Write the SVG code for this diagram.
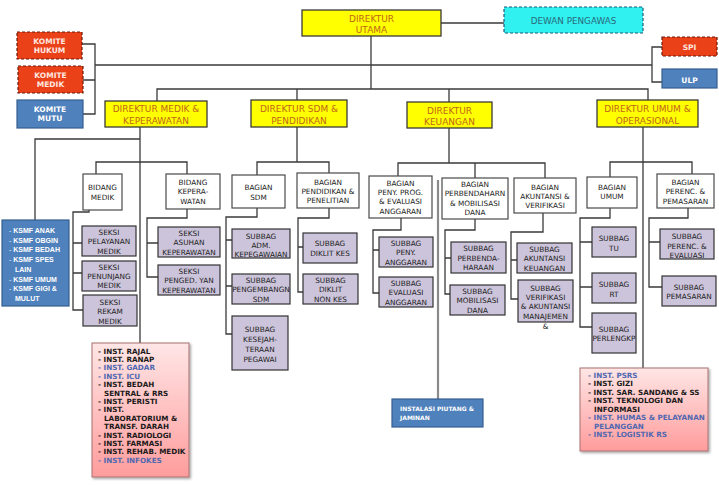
<svg xmlns="http://www.w3.org/2000/svg" width="719" height="485" viewBox="0 0 719 485">
<defs>
<linearGradient id="pink" x1="0" y1="0" x2="0" y2="1">
<stop offset="0" stop-color="#ffe6e6"/>
<stop offset="1" stop-color="#ff9c9c"/>
</linearGradient>
<filter id="sh" x="-10%" y="-10%" width="130%" height="130%">
<feDropShadow dx="1.5" dy="1.5" stdDeviation="1" flood-color="#000" flood-opacity="0.35"/>
</filter>
</defs>
<style>
.dir rect{fill:#ffff00;stroke:#3a3a3a;stroke-width:1.3}
.dir text{font-family:"DejaVu Sans",sans-serif;font-size:9px;fill:#c0661a;text-anchor:middle}
.red rect{fill:#ea4118;stroke:#6a1a0a;stroke-width:1.2;stroke-dasharray:3 2}
.blue rect{fill:#4f81bd;stroke:#35608f;stroke-width:1.2}
.lbl text{font-family:"DejaVu Sans",sans-serif;font-weight:bold;font-size:7.5px;fill:#ffe8e0;text-anchor:middle}
.wb rect{fill:#ffffff;stroke:#4a4a4a;stroke-width:1.2}
.lv rect{fill:#ccc4da;stroke:#333;stroke-width:1.2}
.bx text{font-family:"DejaVu Sans",sans-serif;font-size:7.3px;fill:#222;text-anchor:middle}
.inst rect{fill:url(#pink);stroke:#a87070;stroke-width:1}
.inst text{font-family:"DejaVu Sans",sans-serif;font-weight:bold;font-size:7.2px;fill:#1a1a1a}
.inst .b{fill:#5068b0}
.ks text{font-family:"Liberation Sans",sans-serif;font-weight:bold;font-size:7px;fill:#fff}
.ks .d{fill:#b8cde8}
#connectors path{fill:none;stroke:#3a3a3a;stroke-width:1.3}
#connectors path.g{stroke:#8a8a8a;stroke-width:2.2}
</style>

<g id="connectors">
<path d="M441,23 H504"/>
<path d="M371,36 V89"/>
<path d="M95,65 H652"/>
<path d="M82,44 H95 V114 H83 M83,80 H95"/>
<path d="M662,47 H652 V82 H662"/>
<path d="M157,101 V89 H648 V100 M297,89 V100 M449,89 V102"/>
<path d="M140,127 V343"/>
<path d="M140,139 H35 V220"/>
<path d="M96,174 V162 H187 V174"/>
<path d="M89,210 V212 H73 V310 H83 M73,243 H82 M73,273 H82"/>
<path d="M187,209 V218 H147 V277 H158 M147,243 H158"/>
<path d="M297,127 V162 M257,175 V162 H329 V173"/>
<path d="M257,208 V217 H226 V334 H232 M226,240 H232 M226,286 H232"/>
<path d="M329,208 V218 H298 V292 H303 M298,247 H303"/>
<path d="M449,128 V163 M398,176 V163 H545 V178 M475,163 V178"/>
<path d="M401,218 V230 H373 V293 H379 M373,250 H379"/>
<path class="g" d="M438,180 V399"/>
<path d="M475,219 V230 H445 V294 H450 M445,258 H451"/>
<path d="M543,213 V232 H511 V299 H518 M511,260 H517"/>
<path d="M643,127 V368"/>
<path d="M610,177 V162 H692 V174"/>
<path d="M610,208 V218 H580 V327 H592 M580,242 H592 M580,287 H592"/>
<path d="M688,208 V218 H649 V287 H662 M649,242 H660"/>
</g>

<g id="direktur-utama" class="dir"><rect x="302" y="10" width="139" height="26"/><text x="371.5" y="21.5">DIREKTUR</text><text x="371.5" y="33">UTAMA</text></g>
<g id="dewan-pengawas"><rect x="504" y="7" width="139" height="26" fill="#30f0f0" stroke="#1f5a78" stroke-width="1.2" stroke-dasharray="3 2"/><text x="573.5" y="23.5" font-family="DejaVu Sans, sans-serif" font-size="8.8" fill="#2a6a7a" text-anchor="middle">DEWAN PENGAWAS</text></g>

<g id="komite-hukum" class="red lbl"><rect x="17" y="32" width="65" height="27"/><text x="49.5" y="44">KOMITE</text><text x="49.5" y="53">HUKUM</text></g>
<g id="komite-medik" class="red lbl"><rect x="18" y="66" width="65" height="27"/><text x="50.5" y="78">KOMITE</text><text x="50.5" y="87">MEDIK</text></g>
<g id="komite-mutu" class="blue lbl"><rect x="17" y="100" width="66" height="28"/><text x="50" y="112" style="fill:#fff">KOMITE</text><text x="50" y="121" style="fill:#fff">MUTU</text></g>
<g id="spi" class="red lbl"><rect x="662" y="37" width="55" height="19"/><text x="689.5" y="50">SPI</text></g>
<g id="ulp" class="blue lbl"><rect x="662" y="69" width="55" height="19"/><text x="689.5" y="82.5" style="fill:#fff">ULP</text></g>

<g id="dir-medik" class="dir"><rect x="105" y="101" width="102" height="26"/><text x="156" y="112">DIREKTUR MEDIK &amp;</text><text x="156" y="124">KEPERAWATAN</text></g>
<g id="dir-sdm" class="dir"><rect x="251" y="100" width="96" height="27"/><text x="299" y="111.5">DIREKTUR SDM &amp;</text><text x="299" y="123.5">PENDIDIKAN</text></g>
<g id="dir-keuangan" class="dir"><rect x="407" y="102" width="85" height="26"/><text x="449.5" y="113.5">DIREKTUR</text><text x="449.5" y="125">KEUANGAN</text></g>
<g id="dir-umum" class="dir"><rect x="597" y="100" width="101" height="27"/><text x="647.5" y="111.5">DIREKTUR UMUM &amp;</text><text x="647.5" y="123.5">OPERASIONAL</text></g>

<g id="ksmf" class="blue ks"><rect x="2" y="220" width="67" height="86"/>
<text x="9" y="233.3"><tspan class="d">- </tspan>KSMF ANAK</text>
<text x="9" y="242.6"><tspan class="d">- </tspan>KSMF OBGIN</text>
<text x="9" y="252"><tspan class="d">- </tspan>KSMF BEDAH</text>
<text x="9" y="261.6"><tspan class="d">- </tspan>KSMF SPES</text>
<text x="15" y="271.6">LAIN</text>
<text x="9" y="281.6"><tspan class="d">- </tspan>KSMF UMUM</text>
<text x="9" y="291.3"><tspan class="d">- </tspan>KSMF GIGI &amp;</text>
<text x="15" y="301">MULUT</text>
</g>

<g id="bidang-medik" class="wb bx"><rect x="83" y="174" width="39" height="36"/><text x="102.5" y="189.5">BIDANG</text><text x="102.5" y="199.5">MEDIK</text></g>
<g id="bidang-keperawatan" class="wb bx"><rect x="166" y="174" width="54" height="35"/><text x="193" y="184.5">BIDANG</text><text x="193" y="194">KEPERA-</text><text x="193" y="203.5">WATAN</text></g>
<g id="seksi-pelayanan" class="lv bx"><rect x="82" y="226" width="54" height="30"/><text x="109" y="234.5">SEKSI</text><text x="109" y="243.5">PELAYANAN</text><text x="109" y="253.5">MEDIK</text></g>
<g id="seksi-penunjang" class="lv bx"><rect x="82" y="261" width="54" height="30"/><text x="109" y="269.5">SEKSI</text><text x="109" y="278.5">PENUNJANG</text><text x="109" y="287.5">MEDIK</text></g>
<g id="seksi-rekam" class="lv bx"><rect x="83" y="295" width="54" height="31"/><text x="110" y="304.5">SEKSI</text><text x="110" y="313.5">REKAM</text><text x="110" y="323.5">MEDIK</text></g>
<g id="seksi-asuhan" class="lv bx"><rect x="158" y="227" width="62" height="30"/><text x="189" y="235.5">SEKSI</text><text x="189" y="244.5">ASUHAN</text><text x="189" y="254.5">KEPERAWATAN</text></g>
<g id="seksi-penged" class="lv bx"><rect x="158" y="265" width="62" height="30"/><text x="189" y="273.5">SEKSI</text><text x="189" y="282.5">PENGED. YAN</text><text x="189" y="292.5">KEPERAWATAN</text></g>

<g id="inst-medik" class="inst"><rect x="92" y="343" width="97" height="134" filter="url(#sh)"/>
<text x="98" y="353.6">- INST. RAJAL</text>
<text x="98" y="362">- INST. RANAP</text>
<text x="98" y="370.4" class="b">- INST. GADAR</text>
<text x="98" y="378.8" class="b">- INST. ICU</text>
<text x="98" y="387.2">- INST. BEDAH</text>
<text x="104" y="395.6">SENTRAL &amp; RRS</text>
<text x="98" y="404">- INST. PERISTI</text>
<text x="98" y="412.4">- INST.</text>
<text x="104" y="420.8">LABORATORIUM &amp;</text>
<text x="104" y="429.2">TRANSF. DARAH</text>
<text x="98" y="437.6">- INST. RADIOLOGI</text>
<text x="98" y="446">- INST. FARMASI</text>
<text x="98" y="454.4">- INST. REHAB. MEDIK</text>
<text x="98" y="462.8" class="b">- INST. INFOKES</text>
</g>

<g id="bagian-sdm" class="wb bx"><rect x="232" y="175" width="53" height="33"/><text x="258.5" y="189.5">BAGIAN</text><text x="258.5" y="199.5">SDM</text></g>
<g id="bagian-pendidikan" class="wb bx"><rect x="297" y="173" width="62" height="35"/><text x="328" y="184.5">BAGIAN</text><text x="328" y="193.5">PENDIDIKAN &amp;</text><text x="328" y="202.5">PENELITIAN</text></g>
<g id="subbag-adm" class="lv bx"><rect x="232" y="229" width="58" height="29"/><text x="261" y="238.5">SUBBAG</text><text x="261" y="247.5">ADM.</text><text x="261" y="256.5">KEPEGAWAIAN</text></g>
<g id="subbag-pengembangn" class="lv bx"><rect x="232" y="274" width="58" height="30"/><text x="261" y="282.5">SUBBAG</text><text x="261" y="291.5">PENGEMBANGN</text><text x="261" y="301.5">SDM</text></g>
<g id="subbag-kesejahteraan" class="lv bx"><rect x="232" y="316" width="56" height="54"/><text x="260" y="331.5">SUBBAG</text><text x="260" y="341.5">KESEJAH-</text><text x="260" y="351.5">TERAAN</text><text x="260" y="361.5">PEGAWAI</text></g>
<g id="subbag-diklit-kes" class="lv bx"><rect x="303" y="233" width="54" height="30"/><text x="330" y="245.5">SUBBAG</text><text x="330" y="255.5">DIKLIT KES</text></g>
<g id="subbag-diklit-nonkes" class="lv bx"><rect x="303" y="274" width="55" height="30"/><text x="330.5" y="282.5">SUBBAG</text><text x="330.5" y="291.5">DIKLIT</text><text x="330.5" y="301.5">NON KES</text></g>

<g id="bagian-peny" class="wb bx"><rect x="369" y="176" width="63" height="42"/><text x="400.5" y="185.5">BAGIAN</text><text x="400.5" y="194.5">PENY. PROG.</text><text x="400.5" y="203.5">&amp; EVALUASI</text><text x="400.5" y="213.5">ANGGARAN</text></g>
<g id="bagian-perbendaharn" class="wb bx"><rect x="442" y="178" width="66" height="41"/><text x="475" y="186.5">BAGIAN</text><text x="475" y="196">PERBENDAHARN</text><text x="475" y="205.5">&amp; MOBILISASI</text><text x="475" y="215">DANA</text></g>
<g id="bagian-akuntansi" class="wb bx"><rect x="514" y="178" width="62" height="35"/><text x="545" y="189.5">BAGIAN</text><text x="545" y="198.5">AKUNTANSI &amp;</text><text x="545" y="208">VERIFIKASI</text></g>
<g id="subbag-peny" class="lv bx"><rect x="379" y="237" width="54" height="30"/><text x="406" y="245.5">SUBBAG</text><text x="406" y="255">PENY.</text><text x="406" y="264.5">ANGGARAN</text></g>
<g id="subbag-evaluasi" class="lv bx"><rect x="379" y="277" width="54" height="30"/><text x="406" y="285.5">SUBBAG</text><text x="406" y="295">EVALUASI</text><text x="406" y="304.5">ANGGARAN</text></g>
<g id="subbag-perbendaharaan" class="lv bx"><rect x="451" y="242" width="55" height="31"/><text x="478.5" y="250.5">SUBBAG</text><text x="478.5" y="260.5">PERBENDA-</text><text x="478.5" y="270">HARAAN</text></g>
<g id="subbag-mobilisasi" class="lv bx"><rect x="450" y="285" width="55" height="30"/><text x="477.5" y="293.5">SUBBAG</text><text x="477.5" y="302.5">MOBILISASI</text><text x="477.5" y="312.5">DANA</text></g>
<g id="subbag-akuntansi" class="lv bx"><rect x="517" y="243" width="55" height="30"/><text x="544.5" y="251.5">SUBBAG</text><text x="544.5" y="261">AKUNTANSI</text><text x="544.5" y="270.5">KEUANGAN</text></g>
<g id="subbag-verifikasi" class="lv bx"><rect x="518" y="280" width="55" height="42"/><text x="545.5" y="290.5">SUBBAG</text><text x="545.5" y="299.5">VERIFIKASI</text><text x="545.5" y="308.5">&amp; AKUNTANSI</text><text x="545.5" y="318.5">MANAJEMEN</text><text x="545.5" y="328.5">&amp;</text></g>
<g id="instalasi-piutang" class="blue"><rect x="392" y="399" width="91" height="28"/><text x="400" y="411" font-family="DejaVu Sans, sans-serif" font-weight="bold" font-size="6" fill="#fff">INSTALASI PIUTANG &amp;</text><text x="400" y="420" font-family="DejaVu Sans, sans-serif" font-weight="bold" font-size="6" fill="#fff">JAMINAN</text></g>

<g id="bagian-umum" class="wb bx"><rect x="587" y="177" width="50" height="31"/><text x="612" y="189.5">BAGIAN</text><text x="612" y="199">UMUM</text></g>
<g id="bagian-perenc" class="wb bx"><rect x="657" y="174" width="57" height="34"/><text x="685.5" y="184.5">BAGIAN</text><text x="685.5" y="193.5">PERENC. &amp;</text><text x="685.5" y="203.5">PEMASARAN</text></g>
<g id="subbag-tu" class="lv bx"><rect x="592" y="227" width="44" height="30"/><text x="614" y="240.5">SUBBAG</text><text x="614" y="250.5">TU</text></g>
<g id="subbag-rt" class="lv bx"><rect x="592" y="273" width="44" height="30"/><text x="614" y="286.5">SUBBAG</text><text x="614" y="296.5">RT</text></g>
<g id="subbag-perlengkp" class="lv bx"><rect x="592" y="313" width="44" height="40"/><text x="614" y="331.5">SUBBAG</text><text x="614" y="340.5">PERLENGKP</text></g>
<g id="subbag-perenc" class="lv bx"><rect x="660" y="229" width="54" height="30"/><text x="687" y="238.5">SUBBAG</text><text x="687" y="248.5">PERENC. &amp;</text><text x="687" y="257.5">EVALUASI</text></g>
<g id="subbag-pemasaran" class="lv bx"><rect x="662" y="276" width="54" height="30"/><text x="689" y="289.5">SUBBAG</text><text x="689" y="298.5">PEMASARAN</text></g>

<g id="inst-umum" class="inst"><rect x="580" y="368" width="128" height="83" filter="url(#sh)"/>
<text x="588" y="377.5" class="b">- INST.  PSRS</text>
<text x="588" y="386">- INST.  GIZI</text>
<text x="588" y="394.5">- INST.  SAR. SANDANG &amp; SS</text>
<text x="588" y="403">- INST. TEKNOLOGI  DAN</text>
<text x="594" y="411.5">INFORMASI</text>
<text x="588" y="420" class="b">- INST. HUMAS &amp;  PELAYANAN</text>
<text x="594" y="428.5" class="b">PELANGGAN</text>
<text x="588" y="437" class="b">- INST. LOGISTIK RS</text>
</g>
</svg>
